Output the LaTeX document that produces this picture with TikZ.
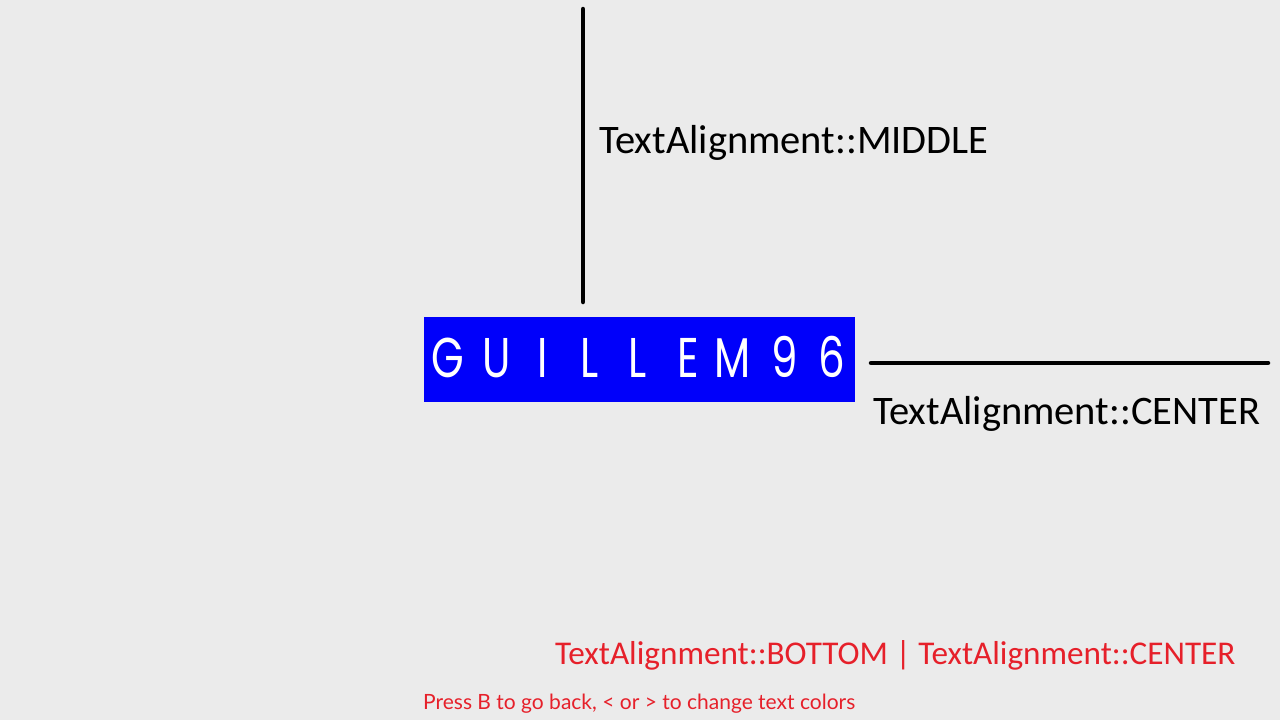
\documentclass[tikz,border=0pt]{standalone}
\usepackage{fontspec}
\setmainfont{Carlito}
\newfontfamily\uifont{Lato}
\newfontfamily\logofont{Poppins}
\definecolor{bgc}{RGB}{235,235,235}
\definecolor{rlred}{RGB}{230,32,42}
\definecolor{rlblue}{RGB}{0,0,250}
\begin{document}
\begin{tikzpicture}[x=1pt,y=-1pt,
  bar/.style={line width=4.5pt,line cap=round,black},
  lbl/.style={inner sep=0pt,anchor=base west,font=\fontsize{40.5}{41}\selectfont},
  logo/.style={inner sep=0pt,text=white,xscale=0.75,font=\logofont\fontsize{56}{56}\selectfont}]
\fill[bgc] (0,0) rectangle (1280,720);
\useasboundingbox (0,0) rectangle (1280,720);
% vertical guide
\coordinate (vtop) at (583,9);
\coordinate (vbot) at (583,302);
\draw[bar] (vtop) -- (vbot);
\node[lbl] (mid) at (599,153) {TextAlignment::MIDDLE};
% blue box
\node[fill=rlblue,minimum width=431pt,minimum height=85pt,inner sep=0pt,anchor=north west] (box) at (424,317) {};
\foreach \ch/\cx [count=\i] in {G/448,U/497,I/543,L/590,L/638,E/688,M/733,9/785,6/832}{
  \node[logo,anchor=base] (c\i) at (\cx,377) {\ch};
}
% horizontal guide
\coordinate (hl) at (871,363);
\coordinate (hr) at (1268,363);
\draw[bar] (hl) -- (hr);
\node[lbl] (cen) at (873,424) {TextAlignment::CENTER};
% status
\node[lbl,text=rlred,font=\fontsize{33.2}{34}\selectfont] (stat) at (555,664) {TextAlignment::BOTTOM | TextAlignment::CENTER};
\node[inner sep=0pt,anchor=base west,text=rlred,font=\uifont\fontsize{21}{21}\selectfont] (help) at (423,709) {Press B to go back, < or > to change text colors};
\end{tikzpicture}
\end{document}
